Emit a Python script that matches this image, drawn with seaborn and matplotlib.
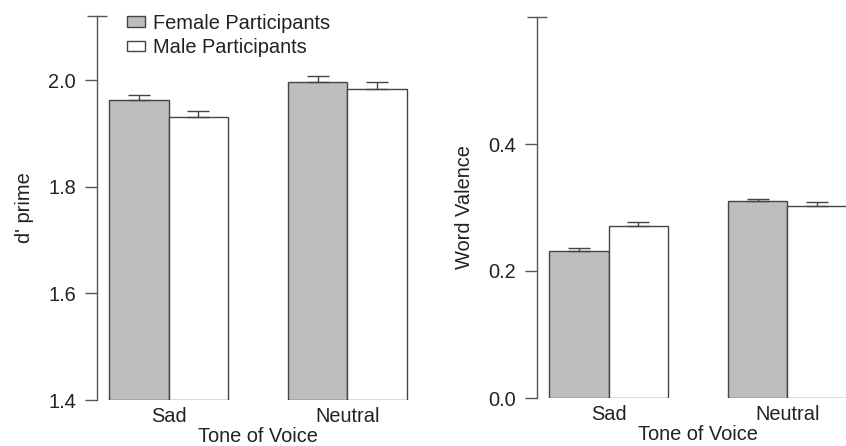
import matplotlib
matplotlib.use("Agg")
import matplotlib.pyplot as plt
import seaborn as sns
import pandas as pd
from matplotlib.patches import Patch

# ---- data ----
tones = ["Sad", "Neutral"]
groups = ["Female Participants", "Male Participants"]
dprime_female = [1.962, 1.996]
dprime_male = [1.930, 1.983]
dprime_female_se = [0.009, 0.012]
dprime_male_se = [0.012, 0.014]
valence_female = [0.232, 0.310]
valence_male = [0.271, 0.303]
valence_female_se = [0.004, 0.004]
valence_male_se = [0.006, 0.005]
dprime_ticks = [1.4, 1.6, 1.8, 2.0]
valence_ticks = [0.0, 0.2, 0.4]

sns.set_style("white")
plt.rcParams["font.family"] = ["Liberation Sans", "DejaVu Sans"]

FS = 14.4
TXT = "#222222"
AX = "#555555"
EDGE = "#444444"
colors = ["#BEBEBE", "#FFFFFF"]

fig = plt.figure(figsize=(8.46, 4.46), dpi=100)
ax1 = fig.add_axes([97 / 846, 46 / 446, 322 / 846, 384 / 446])
ax2 = fig.add_axes([537 / 846, 48 / 446, 322 / 846, 381 / 446])


def panel(ax, fem, male, fse, mse, ymin, ymax, ticks, ylabel):
    df = pd.DataFrame({
        "tone": tones * 2,
        "group": [groups[0]] * 2 + [groups[1]] * 2,
        "value": fem + male,
    })
    sns.barplot(data=df, x="tone", y="value", hue="group", order=tones,
                hue_order=groups, palette=colors, width=2 / 3,
                edgecolor=EDGE, linewidth=1.0, errorbar=None, ax=ax,
                legend=False, saturation=1)
    ses = [fse, mse]
    for cont, se in zip(ax.containers, ses):
        xs, hs = [], []
        for p in cont.patches:
            h = p.get_y() + p.get_height()
            p.set_y(ymin)
            p.set_height(h - ymin)
            xs.append(p.get_x() + p.get_width() / 2)
            hs.append(h)
        ax.errorbar(xs, hs, yerr=[[0] * len(se), se], fmt="none",
                    ecolor=EDGE, elinewidth=1.0, capsize=8, capthick=1.0,
                    zorder=1)
    ax.set_ylim(ymin, ymax)
    ax.set_xlim(-0.4, 1.4)
    for s in ["top", "right", "bottom"]:
        ax.spines[s].set_visible(False)
    ax.spines["left"].set_color(AX)
    ax.spines["left"].set_linewidth(1.0)
    ax.set_yticks(ticks)
    ax.set_yticklabels([f"{t:.1f}" for t in ticks])
    ax.set_yticks([ymax], minor=True)
    ax.tick_params(axis="y", which="major", direction="out", length=8.6,
                   width=1, color=AX, labelsize=FS, labelcolor=TXT, pad=6.5,
                   left=True)
    ax.tick_params(axis="y", which="minor", direction="inout", length=15,
                   width=1, color=AX, left=True)
    ax.tick_params(axis="x", length=0, labelsize=FS, labelcolor=TXT, pad=5)
    ax.set_xlabel("Tone of Voice", fontsize=FS, color=TXT, labelpad=1)
    ax.set_ylabel(ylabel, fontsize=FS, color=TXT, labelpad=10.5)


panel(ax1, dprime_female, dprime_male, dprime_female_se, dprime_male_se,
      1.4, 2.12, dprime_ticks, "d' prime")
panel(ax2, valence_female, valence_male, valence_female_se, valence_male_se,
      0.0, 0.6, valence_ticks, "Word Valence")

handles = [Patch(facecolor=colors[0], edgecolor=EDGE, linewidth=1.0),
           Patch(facecolor=colors[1], edgecolor=EDGE, linewidth=1.0)]
ax1.legend(handles, groups, loc="upper left", bbox_to_anchor=(0.093, 1.006),
           frameon=False, fontsize=FS, handlelength=0.9, handleheight=0.4,
           handletextpad=0.4, labelspacing=0.27, borderaxespad=0,
           borderpad=0, labelcolor=TXT)

fig.savefig("out.png", dpi=100)
